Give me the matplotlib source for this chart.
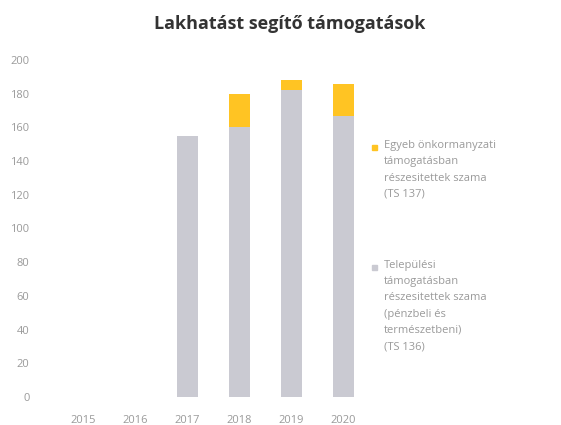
import matplotlib
matplotlib.use("Agg")
import matplotlib.pyplot as plt
from matplotlib.patches import Rectangle
import numpy as np

plt.rcParams['font.family'] = ['Open Sans', 'DejaVu Sans']

years = ['2015', '2016', '2017', '2018', '2019', '2020']
telepulesi = [0, 0, 155, 160, 182, 167]   # TS 136
egyeb = [0, 0, 0, 20, 6, 19]              # TS 137

gray = '#CACAD2'
yellow = '#FFC423'
txt = '#9A9A9A'

fig = plt.figure(figsize=(5.61, 4.25), dpi=100)
ax = fig.add_axes([0.102, 0.066, 0.556, 0.793])

x = np.arange(len(years))
ax.bar(x, telepulesi, width=0.4, color=gray)
ax.bar(x, egyeb, width=0.4, bottom=telepulesi, color=yellow)

ax.set_xlim(-0.5, len(years) - 0.5)
ax.set_ylim(0, 200)
ax.set_yticks(range(0, 201, 20))
ax.set_xticks(x)
ax.set_xticklabels(years)
ax.tick_params(length=0, labelsize=8, colors=txt)
ax.tick_params(axis='x', pad=13)
ax.tick_params(axis='y', pad=20)
for s in ax.spines.values():
    s.set_visible(False)

fig.suptitle('Lakhatást segítő támogatások', x=0.517, y=0.965,
             fontsize=13, fontweight='bold', color='#333333')

# legend, drawn by hand so the marker sits at the first line
labels = ['Egyeb önkormanyzati\ntámogatásban\nrészesitettek szama\n(TS 137)',
          'Települési\ntámogatásban\nrészesitettek szama\n(pénzbeli és\ntermészetbeni)\n(TS 136)']
colors = [yellow, gray]
tops = [0.652, 0.370]
for lab, c, ty in zip(labels, colors, tops):
    fig.patches.append(Rectangle((0.663, ty - 0.006), 0.009, 0.012,
                                 transform=fig.transFigure, color=c))
    fig.text(0.684, ty + 0.018, lab, fontsize=8, color=txt, va='top',
             linespacing=1.65)

fig.savefig('out.png', dpi=100)
